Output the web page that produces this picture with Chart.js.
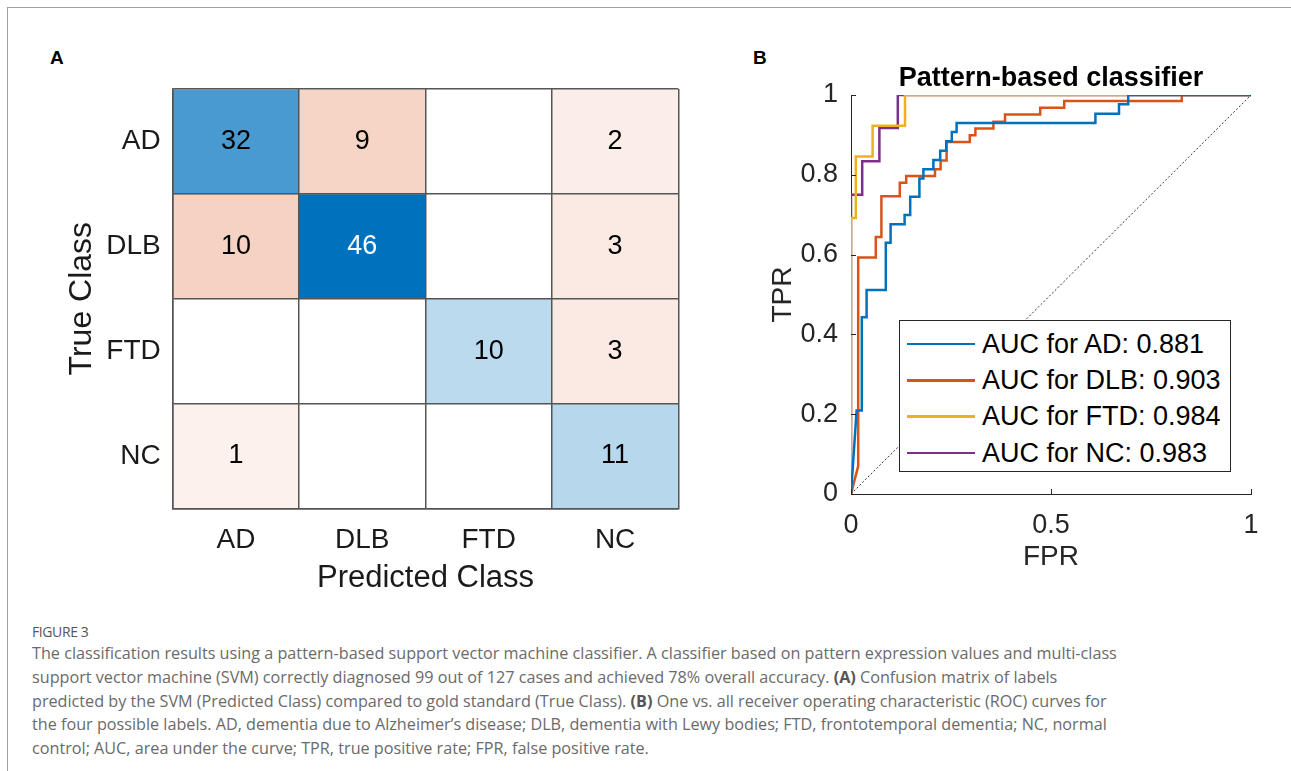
<!DOCTYPE html>
<html>
<head>
<meta charset="utf-8">
<script src="https://cdn.jsdelivr.net/npm/chart.js@4.4.1/dist/chart.umd.min.js"></script>
<style>
  body { margin: 0; width: 1291px; height: 771px; background: #fff; overflow: hidden; position: relative; font-family: "Liberation Sans", Arial, sans-serif; }
  .frame { position: absolute; left: 7px; top: 7px; width: 1284px; height: 764px; border-top: 1px solid #a0a0a0; border-left: 1px solid #a0a0a0; box-sizing: border-box; }
  .panel { position: absolute; font-weight: bold; font-size: 19px; line-height: 20px; color: #000; }
  #wrapA { position: absolute; left: 0; top: 0; }
  #wrapB { position: absolute; left: 700px; top: 0; }
  #legend { position: absolute; left: 899px; top: 320px; width: 332px; height: 152px; box-sizing: border-box; border: 1px solid #262626; background: #fff; padding-top: 5px; }
  .row { height: 36.3px; display: flex; align-items: center; font-size: 27px; color: #000; white-space: nowrap; }
  .row .line { width: 68px; height: 2.5px; margin-left: 7px; margin-right: 7px; }
  #figlabel { position: absolute; left: 32px; top: 622px; font-family: "Open Sans", sans-serif; font-size: 14px; letter-spacing: -0.4px; line-height: 20px; color: #555; }
  #caption { position: absolute; left: 32px; top: 642px; font-family: "Open Sans", sans-serif; font-size: 16.2px; line-height: 23.8px; color: #6a6a6a; white-space: nowrap; }
  #caption b { color: #555; }
</style>
</head>
<body>
<div class="frame"></div>
<div class="panel" style="left:50px; top:48px;">A</div>
<div class="panel" style="left:753px; top:48px;">B</div>
<div id="wrapA"><canvas id="matrix" width="700" height="600"></canvas></div>
<div id="wrapB"><canvas id="roc" width="591" height="600"></canvas></div>
<div id="legend"></div>
<div id="figlabel">FIGURE 3</div>
<div id="caption">
The classification results using a pattern-based support vector machine classifier. A classifier based on pattern expression values and multi-class<br>
support vector machine (SVM) correctly diagnosed 99 out of 127 cases and achieved 78% overall accuracy. <b>(A)</b> Confusion matrix of labels<br>
predicted by the SVM (Predicted Class) compared to gold standard (True Class). <b>(B)</b> One vs. all receiver operating characteristic (ROC) curves for<br>
the four possible labels. AD, dementia due to Alzheimer’s disease; DLB, dementia with Lewy bodies; FTD, frontotemporal dementia; NC, normal<br>
control; AUC, area under the curve; TPR, true positive rate; FPR, false positive rate.
</div>
<script>
// confusion matrix, rows = true class, columns = predicted class
const classes = ['AD', 'DLB', 'FTD', 'NC'];
const trueAD  = [32, 9, 0, 2];
const trueDLB = [10, 46, 0, 3];
const trueFTD = [0, 0, 10, 3];
const trueNC  = [1, 0, 0, 11];
const matrix = [trueAD, trueDLB, trueFTD, trueNC];

// ROC step curves (one vs all)
const fprAD  = [0, 0.014, 0.027, 0.027, 0.039, 0.039, 0.087, 0.087, 0.099, 0.099, 0.134, 0.134, 0.148, 0.148, 0.171, 0.171, 0.181, 0.181, 0.206, 0.206, 0.223, 0.223, 0.238, 0.238, 0.252, 0.252, 0.264, 0.264, 0.611, 0.611, 0.670, 0.670, 0.693, 0.693, 1];
const tprAD  = [0, 0.209, 0.209, 0.443, 0.443, 0.511, 0.511, 0.630, 0.630, 0.676, 0.676, 0.699, 0.699, 0.745, 0.745, 0.791, 0.791, 0.814, 0.814, 0.837, 0.837, 0.860, 0.860, 0.884, 0.884, 0.907, 0.907, 0.930, 0.930, 0.953, 0.953, 0.977, 0.977, 1, 1];
const fprDLB = [0, 0.018, 0.018, 0.062, 0.062, 0.076, 0.076, 0.122, 0.122, 0.138, 0.138, 0.210, 0.210, 0.224, 0.224, 0.239, 0.239, 0.297, 0.297, 0.311, 0.311, 0.356, 0.356, 0.385, 0.385, 0.473, 0.473, 0.533, 0.533, 0.827, 0.827, 1];
const tprDLB = [0, 0.07, 0.593, 0.593, 0.644, 0.644, 0.746, 0.746, 0.780, 0.780, 0.797, 0.797, 0.814, 0.814, 0.836, 0.836, 0.882, 0.882, 0.899, 0.899, 0.916, 0.916, 0.933, 0.933, 0.951, 0.951, 0.968, 0.968, 0.985, 0.985, 1, 1];
const fprFTD = [0, 0, 0.012, 0.012, 0.054, 0.054, 0.135, 0.135, 1];
const tprFTD = [0, 0.692, 0.692, 0.846, 0.846, 0.923, 0.923, 1, 1];
const fprNC  = [0, 0, 0.028, 0.028, 0.071, 0.071, 0.117, 0.117, 1];
const tprNC  = [0, 0.75, 0.75, 0.834, 0.834, 0.917, 0.917, 1, 1];
const aucValues = [0.881, 0.903, 0.984, 0.983];

const lineColors = ['#0072BD', '#D95319', '#EDB120', '#7E2F8E'];
const font = 'Liberation Sans';
const maxCount = Math.max(...matrix.flat());

function cellColor(v, diag) {
    if (!v) return '#ffffff';
    let a = 0.06 + 0.94 * v / maxCount;
    let base = diag ? [0, 114, 189] : [217, 83, 25];
    return 'rgb(' + base.map(c => Math.round(255 - (255 - c) * a)).join(',') + ')';
}

const cellText = {
    id: 'cellText',
    afterDatasetsDraw(chart) {
        const ctx = chart.ctx;
        ctx.save();
        ctx.font = '27px "' + font + '"';
        ctx.textAlign = 'center';
        ctx.textBaseline = 'middle';
        matrix.forEach((row, i) => {
            chart.getDatasetMeta(i).data.forEach((bar, j) => {
                let v = row[j];
                if (!v) return;
                let p = bar.getProps(['x', 'y', 'base'], true);
                ctx.fillStyle = v / maxCount > 0.8 ? '#ffffff' : '#000000';
                ctx.fillText(v, p.x, (p.y + p.base) / 2);
            });
        });
        ctx.restore();
    }
};

const gridColor = '#555555';

new Chart(document.getElementById('matrix'), {
    type: 'bar',
    data: {
        labels: classes,
        datasets: matrix.map((row, i) => ({
            label: classes[i],
            data: classes.map(() => [i, i + 1]),
            backgroundColor: row.map((v, j) => cellColor(v, i === j)),
            borderWidth: 0,
            grouped: false,
            barPercentage: 1,
            categoryPercentage: 1
        }))
    },
    options: {
        responsive: false,
        animation: false,
        layout: { padding: { left: 0, top: 89, right: 21.7, bottom: 3.4 } },
        plugins: { legend: { display: false }, tooltip: { enabled: false } },
        scales: {
            x: {
                offset: true,
                grid: { z: 1, offset: true, color: gridColor, lineWidth: 1.5, drawTicks: false },
                border: { z: 1, color: gridColor, width: 1.5 },
                ticks: { font: { family: font, size: 28 }, color: '#1a1a1a', padding: 15 },
                title: { display: true, text: 'Predicted Class', font: { family: font, size: 31 }, color: '#1a1a1a', padding: { top: 0, bottom: 0 } },
                afterFit(s) { s.height = 88.3; }
            },
            y: {
                min: 0,
                max: 4,
                reverse: true,
                afterBuildTicks(axis) {
                    axis.ticks = [0, 0.5, 1, 1.5, 2, 2.5, 3, 3.5, 4].map(v => ({ value: v }));
                },
                grid: {
                    z: 1,
                    color: (c) => c.tick && Number.isInteger(c.tick.value) ? gridColor : 'rgba(0,0,0,0)',
                    lineWidth: 1.5,
                    drawTicks: false
                },
                border: { z: 1, color: gridColor, width: 1.5 },
                ticks: {
                    autoSkip: false,
                    font: { family: font, size: 28 },
                    color: '#1a1a1a',
                    padding: 12,
                    callback: (v) => (v % 1 === 0.5) ? classes[Math.floor(v)] : ''
                },
                title: { display: true, text: 'True Class', font: { family: font, size: 32 }, color: '#1a1a1a', padding: { top: 62.8, bottom: 0 } },
                afterFit(s) { s.width = 172.7; }
            }
        }
    },
    plugins: [cellText]
});

const innerTicks = {
    id: 'innerTicks',
    afterDatasetsDraw(chart) {
        const { ctx, chartArea, scales } = chart;
        ctx.save();
        ctx.strokeStyle = '#262626';
        ctx.lineWidth = 1;
        ctx.beginPath();
        scales.x.ticks.forEach(t => {
            let px = Math.round(scales.x.getPixelForValue(t.value)) + 0.5;
            ctx.moveTo(px, chartArea.bottom);
            ctx.lineTo(px, chartArea.bottom - 5);
        });
        scales.y.ticks.forEach(t => {
            let py = Math.round(scales.y.getPixelForValue(t.value)) + 0.5;
            ctx.moveTo(chartArea.left, py);
            ctx.lineTo(chartArea.left + 5, py);
        });
        ctx.stroke();
        ctx.restore();
    }
};

const curves = [[fprAD, tprAD], [fprDLB, tprDLB], [fprFTD, tprFTD], [fprNC, tprNC]];

let rocDatasets = [{
    label: 'chance',
    data: [{ x: 0, y: 0 }, { x: 1, y: 1 }],
    borderColor: '#333333',
    borderWidth: 1,
    borderDash: [2, 2],
    showLine: true,
    pointRadius: 0
}];
curves.forEach(([fpr, tpr], i) => {
    rocDatasets.push({
        label: 'AUC for ' + classes[i] + ': ' + aucValues[i].toFixed(3),
        data: fpr.map((x, k) => ({ x: x, y: tpr[k] })),
        borderColor: lineColors[i],
        borderWidth: 2.5,
        showLine: true,
        pointRadius: 0,
        tension: 0
    });
});

const plainNumber = (v) => String(Math.round(v * 10) / 10);

new Chart(document.getElementById('roc'), {
    type: 'scatter',
    data: { datasets: rocDatasets },
    options: {
        responsive: false,
        animation: false,
        layout: { padding: { left: 0, top: 62.6, right: 40, bottom: 26.2 } },
        plugins: {
            legend: { display: false },
            tooltip: { enabled: false },
            title: {
                display: true,
                fullSize: false,
                text: 'Pattern-based classifier',
                font: { family: font, size: 27, weight: 'bold' },
                color: '#000',
                padding: 0
            }
        },
        scales: {
            x: {
                type: 'linear', min: 0, max: 1,
                grid: { display: false },
                border: { display: true, color: '#262626', width: 1 },
                ticks: { stepSize: 0.5, font: { family: font, size: 27 }, color: '#262626', padding: 7, callback: plainNumber },
                title: { display: true, text: 'FPR', font: { family: font, size: 28 }, color: '#262626', padding: { top: 0, bottom: 0 } },
                afterFit(s) { s.height = 79.8; }
            },
            y: {
                type: 'linear', min: 0, max: 1,
                grid: { display: false },
                border: { display: true, color: '#262626', width: 1 },
                ticks: { stepSize: 0.2, font: { family: font, size: 27 }, color: '#262626', padding: 5, callback: plainNumber },
                title: { display: true, text: 'TPR', font: { family: font, size: 28 }, color: '#262626', padding: { top: 66.2, bottom: 0 } },
                afterFit(s) { s.width = 151; }
            }
        }
    },
    plugins: [innerTicks]
});

// legend box inside the ROC axes
let legendHtml = '';
classes.forEach((c, i) => {
    legendHtml += '<div class="row"><span class="line" style="background:' + lineColors[i] + '"></span>AUC for ' + c + ': ' + aucValues[i].toFixed(3) + '</div>';
});
document.getElementById('legend').innerHTML = legendHtml;
</script>
</body>
</html>
